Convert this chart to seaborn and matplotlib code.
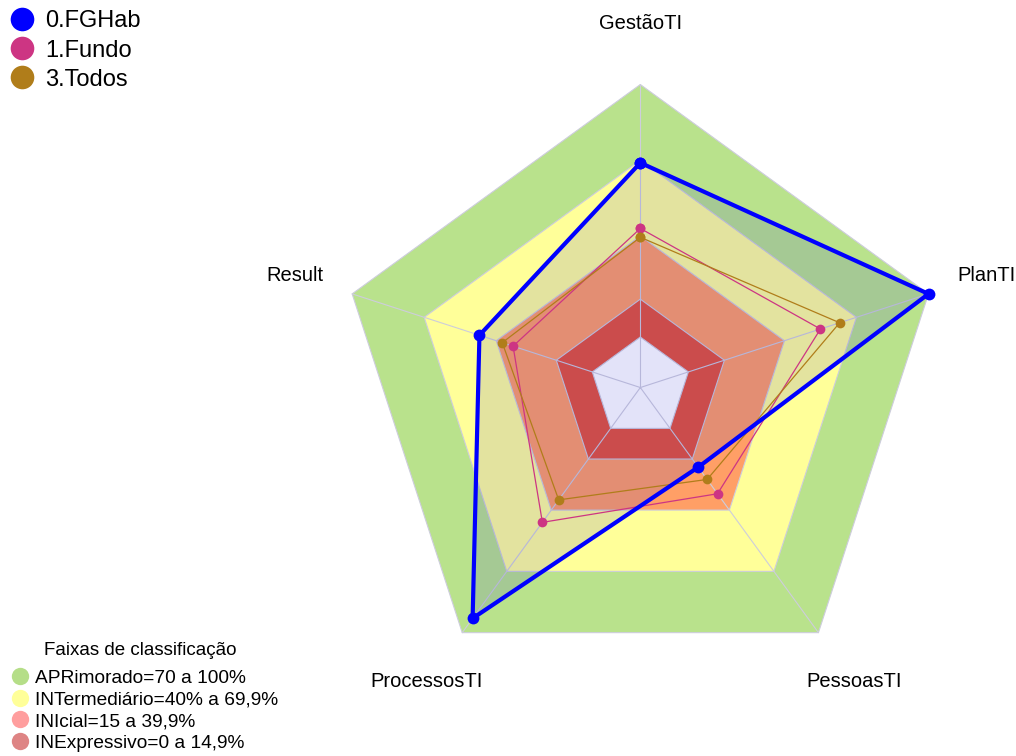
import numpy as np
import pandas as pd
import seaborn as sns
import matplotlib.pyplot as plt
from matplotlib.lines import Line2D

# eixos do radar (sentido horário a partir do topo)
eixos = ["GestãoTI", "PlanTI", "PessoasTI", "ProcessosTI", "Result"]

# valores (%)
fghab = [69, 100, 19, 93, 47]
fundo = [43, 55, 32, 46, 33]
todos = [39.5, 63, 25, 35, 37.5]

series = ["0.FGHab", "1.Fundo", "3.Todos"]
cores = ["#0000FF", "#CD3583", "#B07D1A"]

# faixas de classificação
faixas_lim = [100, 70, 40, 15, 0]
faixas_cor = ["#B9E28C", "#FFFF99", "#FF9F66", "#E4533A", "white"]
faixas_nome = ["APRimorado=70 a 100%", "INTermediário=40% a 69,9%",
               "INIcial=15 a 39,9%", "INExpressivo=0 a 14,9%"]
faixas_leg = ["#B5DE88", "#FFFF99", "#FF9E9E", "#DE8484"]

sns.set_theme(style="white")
plt.rcParams['font.family'] = ['Liberation Sans', 'DejaVu Sans']
plt.rcParams['text.color'] = 'black'

ang = np.linspace(0, 2 * np.pi, len(eixos), endpoint=False)
ang_f = np.append(ang, ang[0] + 2 * np.pi)

df = pd.DataFrame({
    "ang": np.tile(ang_f, 3),
    "valor": fghab + fghab[:1] + fundo + fundo[:1] + todos + todos[:1],
    "serie": np.repeat(series, len(ang_f)),
})

fig = plt.figure(figsize=(10.16, 7.56), dpi=100)
ax = fig.add_axes([0.332, 0.0866, 0.5965, 0.8016], projection="polar")
ax.set_theta_zero_location("N")
ax.set_theta_direction(-1)

# faixas de fundo
for lim, cor in zip(faixas_lim, faixas_cor):
    ax.fill(ang_f, [lim] * len(ang_f), color=cor, lw=0, zorder=1)
grid = "#CDCDDC"
for lim in faixas_lim:
    ax.plot(ang_f, [lim] * len(ang_f), color=grid, lw=0.8, zorder=2)
for a in ang:
    ax.plot([a, a], [-20, 100], color=grid, lw=0.8, zorder=2)

# preenchimento da serie principal
ax.fill(ang_f, fghab + fghab[:1], color=(0.1, 0.1, 0.82), alpha=0.12, lw=0, zorder=3)

estilo = {"3.Todos": (0.9, 7), "1.Fundo": (0.9, 7), "0.FGHab": (3, 8.5)}
for nome in ["1.Fundo", "3.Todos", "0.FGHab"]:
    lw, ms = estilo[nome]
    sns.lineplot(data=df[df.serie == nome], x="ang", y="valor", sort=False,
                 estimator=None, color=cores[series.index(nome)], lw=lw,
                 marker="o", markersize=ms, markeredgewidth=0, ax=ax, zorder=4)
for ln in ax.lines:
    ln.set_clip_on(False)
for p in ax.patches:
    p.set_clip_on(False)

ax.set_ylim(-20, 100)
ax.grid(False)
ax.spines["polar"].set_visible(False)
ax.set_xticks([])
ax.set_yticks([])
ax.set_xlabel("")
ax.set_ylabel("")
ax.set_facecolor("none")

for a, nome in zip(ang, eixos):
    ax.text(a, 124, nome, ha="center", va="center", fontsize=14.5, color="black")

h1 = [Line2D([], [], ls="none", marker="o", markersize=17, markeredgewidth=0, color=c)
      for c in cores]
fig.legend(h1, series, loc="upper left", bbox_to_anchor=(-0.009, 1.008), frameon=False,
           fontsize=17, handletextpad=0.4, labelspacing=0.3, borderpad=0.2,
           handlelength=1.2)

fig.text(0.138, 0.139, "Faixas de classificação", ha="center", va="center",
         fontsize=13.5)
h2 = [Line2D([], [], ls="none", marker="o", markersize=12.5, markeredgewidth=0, color=c)
      for c in faixas_leg]
fig.legend(h2, faixas_nome, loc="lower left", bbox_to_anchor=(-0.005, -0.012),
           frameon=False, fontsize=13.8, handletextpad=0.2, labelspacing=0.22,
           borderpad=0.2, handlelength=1.2)

fig.savefig("out.png", dpi=100)
